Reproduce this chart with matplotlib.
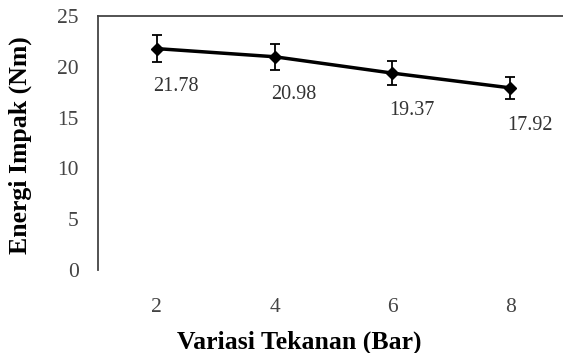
import matplotlib.pyplot as plt

# Data
tekanan = [2, 4, 6, 8]
energi = [21.78, 20.98, 19.37, 17.92]
galat = [1.3, 1.3, 1.2, 1.1]
label_data = ["21.78", "20.98", "19.37", "17.92"]
y_ticks = [0, 5, 10, 15, 20, 25]

plt.rcParams['font.family'] = ['Liberation Serif', 'DejaVu Serif']

fig = plt.figure(figsize=(5.63, 3.53), dpi=100)
ax = fig.add_axes([0.174, 0.235, 0.837, 0.72])

ax.errorbar(tekanan, energi, yerr=galat, color='black', linewidth=2.5,
            marker='D', markersize=6.5, capsize=3.5, elinewidth=1.3,
            capthick=1.3)

# Data labels under each point
for x, y, teks in zip(tekanan, energi, label_data):
    ax.annotate(teks, (x, y), xytext=(14, -27), textcoords='offset points',
                ha='center', va='center', fontsize=14.5, color='#333333')

ax.set_xlim(1, 9)
ax.set_ylim(0, 25)
ax.set_xticks(tekanan)
ax.set_yticks(y_ticks)
ax.tick_params(axis='both', length=0, labelsize=15.5, colors='#444444')
ax.tick_params(axis='y', pad=14)
ax.tick_params(axis='x', pad=20)

ax.spines['bottom'].set_visible(False)
ax.spines['right'].set_visible(False)
ax.spines['top'].set_color('#444444')
ax.spines['left'].set_color('#444444')
ax.spines['top'].set_linewidth(1.3)
ax.spines['left'].set_linewidth(1.3)

ax.set_ylabel("Energi Impak (Nm)", fontsize=18.5, fontweight='bold')
ax.set_xlabel("Variasi Tekanan (Bar)", fontsize=18.5, fontweight='bold')
ax.yaxis.set_label_coords(-0.14, 0.49)
ax.xaxis.set_label_coords(0.427, -0.238)

fig.savefig("out.png", dpi=100)
